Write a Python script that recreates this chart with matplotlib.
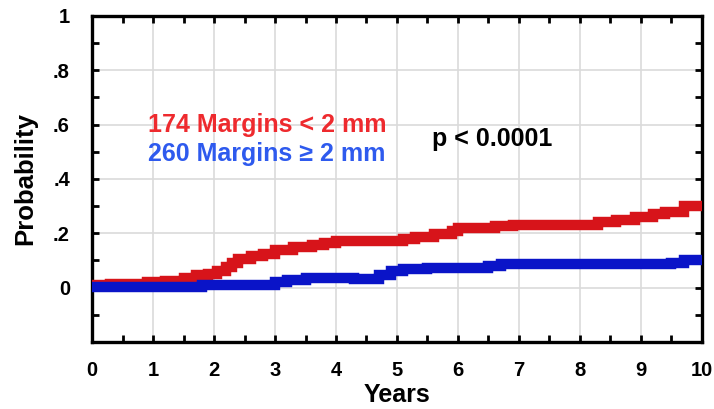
import matplotlib
matplotlib.use("Agg")
import matplotlib.pyplot as plt
from matplotlib.ticker import MultipleLocator, FixedLocator

# Data (step curves)
red_t = [0.0, 0.3, 0.6, 0.9, 1.2, 1.5, 1.7, 1.9, 2.05, 2.2, 2.3, 2.4, 2.6, 2.8, 3.0,
         3.3, 3.6, 3.8, 4.0, 5.1, 5.3, 5.6, 5.9, 6.0, 6.6, 6.9, 8.3, 8.6, 8.9, 9.2,
         9.4, 9.7, 10.0]
red_v = [0.008, 0.012, 0.015, 0.02, 0.025, 0.035, 0.045, 0.05, 0.06, 0.075, 0.09,
         0.105, 0.115, 0.125, 0.14, 0.15, 0.155, 0.165, 0.173, 0.18, 0.188, 0.196,
         0.21, 0.218, 0.225, 0.23, 0.24, 0.25, 0.26, 0.27, 0.28, 0.3, 0.3]

blue_t = [0.0, 1.8, 3.0, 3.2, 3.5, 4.3, 4.7, 4.9, 5.1, 5.5, 6.5, 6.7, 9.5, 9.7, 10.0]
blue_v = [0.004, 0.01, 0.022, 0.028, 0.036, 0.03, 0.045, 0.06, 0.068, 0.072, 0.08,
          0.086, 0.092, 0.1, 0.1]

x_ticks = [0, 1, 2, 3, 4, 5, 6, 7, 8, 9, 10]
y_ticks = [0, 0.2, 0.4, 0.6, 0.8, 1.0]
y_tick_labels = ["0", ".2", ".4", ".6", ".8", "1"]

label_red = "174 Margins < 2 mm"
label_blue = "260 Margins \u2265 2 mm"
p_text = "p < 0.0001"

RED_LINE = "#D7141A"
BLUE_LINE = "#0A14C8"
RED_TEXT = "#EE2A2E"
BLUE_TEXT = "#2E5AEE"

plt.rcParams['font.family'] = ['Liberation Sans', 'DejaVu Sans']
plt.rcParams['font.weight'] = 'bold'

fig = plt.figure(figsize=(7.14, 4.09), dpi=100)
ax = fig.add_axes([0.129, 0.164, 0.854, 0.797])

ax.plot(red_t, red_v, drawstyle='steps-post', color=RED_LINE, lw=7.5,
        solid_joinstyle='miter', solid_capstyle='butt', zorder=3)
ax.plot(blue_t, blue_v, drawstyle='steps-post', color=BLUE_LINE, lw=7.5,
        solid_joinstyle='miter', solid_capstyle='butt', zorder=3)

ax.set_xlim(0, 10)
ax.set_ylim(-0.2, 1.0)
ax.xaxis.set_major_locator(FixedLocator(x_ticks))
ax.xaxis.set_minor_locator(MultipleLocator(0.5))
ax.yaxis.set_major_locator(FixedLocator(y_ticks + [-0.2]))
ax.yaxis.set_minor_locator(MultipleLocator(0.1))
ax.set_xticklabels([str(v) for v in x_ticks])
ax.set_yticklabels(y_tick_labels + [""])

ax.grid(True, which='major', color='#DADADA', lw=1.2, zorder=0)
ax.set_axisbelow(True)

for s in ax.spines.values():
    s.set_linewidth(2.4)
    s.set_color('black')

ax.tick_params(axis='both', which='both', direction='in', top=True, right=True,
               width=2, color='black', labelsize=14.5)
ax.tick_params(axis='both', which='major', length=5)
ax.tick_params(axis='both', which='minor', length=5)
ax.tick_params(axis='x', which='major', pad=14)
ax.tick_params(axis='y', which='major', pad=16)
for lab in ax.get_xticklabels() + ax.get_yticklabels():
    lab.set_fontweight('bold')

ax.set_xlabel("Years", fontsize=18, fontweight='bold', labelpad=2)
ax.set_ylabel("Probability", fontsize=18.5, fontweight='bold', labelpad=11)

ax.text(0.92, 0.6, label_red, color=RED_TEXT, fontsize=18, fontweight='bold',
        va='center', ha='left')
ax.text(0.92, 0.49, label_blue, color=BLUE_TEXT, fontsize=18, fontweight='bold',
        va='center', ha='left')
ax.text(5.58, 0.547, p_text, color='black', fontsize=18, fontweight='bold',
        va='center', ha='left')

fig.savefig("out.png", dpi=100)
